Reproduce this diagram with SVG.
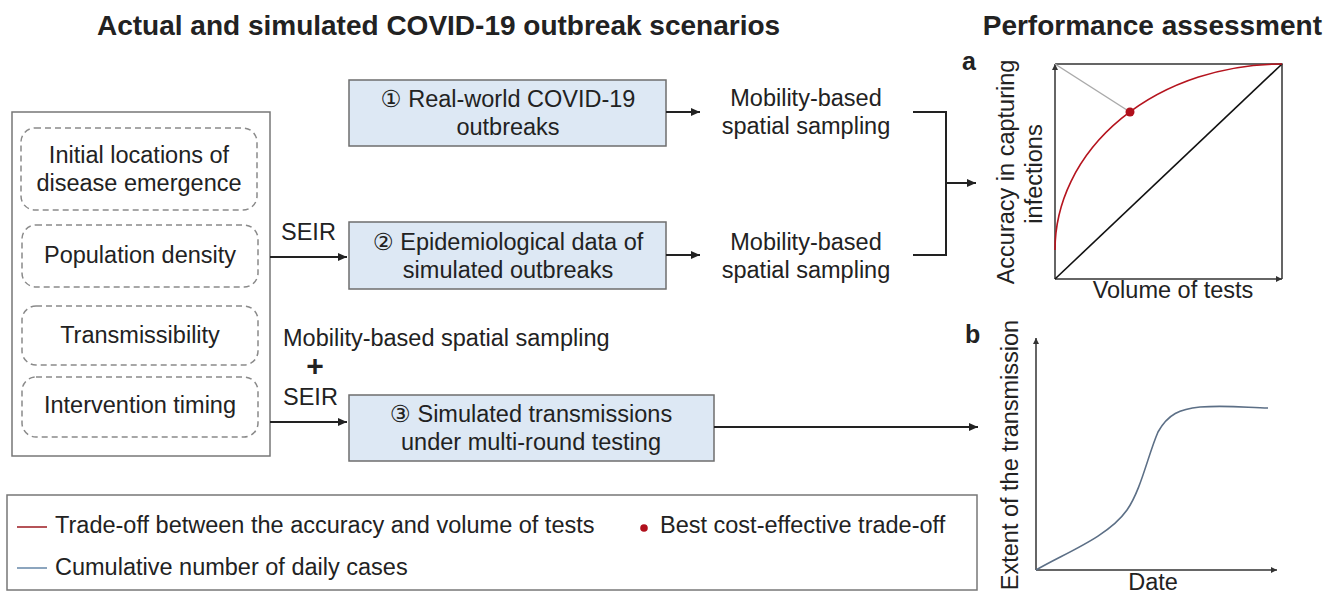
<svg xmlns="http://www.w3.org/2000/svg" width="1326" height="596" viewBox="0 0 1326 596">
<style>
text{font-family:"Liberation Sans",Arial,"DejaVu Sans",sans-serif;fill:#222;}
.t{font-size:23.5px;}
.c{text-anchor:middle;}
.h{font-size:28px;font-weight:bold;}
.lbl{font-size:25px;font-weight:bold;}
.blue{fill:#dde8f4;stroke:#6e6e6e;stroke-width:1.5;}
.dash{fill:none;stroke:#8a8a8a;stroke-width:1.5;stroke-dasharray:6 4;}
.conn{fill:none;stroke:#222;stroke-width:2;}
.ax{fill:none;stroke:#333;stroke-width:1.5;}
</style>
<defs>
<marker id="ah" markerUnits="userSpaceOnUse" markerWidth="9" markerHeight="8" refX="9" refY="4" orient="auto">
<path d="M0,0 L9,4 L0,8 z" fill="#222"/>
</marker>
<marker id="sa" markerUnits="userSpaceOnUse" markerWidth="6" markerHeight="6" refX="6" refY="3" orient="auto">
<path d="M0,0 L6,3 L0,6 z" fill="#333"/>
</marker>
</defs>
<rect width="1326" height="596" fill="#fff"/>

<text class="h" x="97" y="35">Actual and simulated COVID-19 outbreak scenarios</text>
<text class="h" x="1322" y="35" text-anchor="end">Performance assessment</text>

<g id="factors">
<rect x="12" y="112" width="258" height="344" fill="none" stroke="#777" stroke-width="1.5"/>
<g id="f1"><rect class="dash" x="21" y="128" width="236" height="82" rx="14"/>
<text class="t c" x="139" y="163">Initial locations of</text>
<text class="t c" x="139" y="191">disease emergence</text></g>
<g id="f2"><rect class="dash" x="22" y="225" width="236" height="62" rx="14"/>
<text class="t c" x="140" y="263">Population density</text></g>
<g id="f3"><rect class="dash" x="22" y="306" width="236" height="59" rx="14"/>
<text class="t c" x="140" y="343">Transmissibility</text></g>
<g id="f4"><rect class="dash" x="22" y="377" width="236" height="60" rx="14"/>
<text class="t c" x="140" y="413">Intervention timing</text></g>
</g>

<g id="box1"><rect class="blue" x="349" y="80" width="317" height="66"/>
<text class="t c" x="508" y="107">① Real-world COVID-19</text>
<text class="t c" x="508" y="135">outbreaks</text></g>
<g id="box2"><rect class="blue" x="349" y="222" width="317" height="67"/>
<text class="t c" x="508" y="250">② Epidemiological data of</text>
<text class="t c" x="508" y="278">simulated outbreaks</text></g>
<g id="box3"><rect class="blue" x="349" y="395" width="365" height="66"/>
<text class="t c" x="531" y="422">③ Simulated transmissions</text>
<text class="t c" x="531" y="450">under multi-round testing</text></g>

<g id="sampling1"><text class="t c" x="806" y="106">Mobility-based</text>
<text class="t c" x="806" y="134">spatial sampling</text></g>
<g id="sampling2"><text class="t c" x="806" y="250">Mobility-based</text>
<text class="t c" x="806" y="278">spatial sampling</text></g>

<g id="labels">
<text class="t" x="281" y="240">SEIR</text>
<text class="t" x="283" y="346">Mobility-based spatial sampling</text>
<text x="315" y="376" style="font-size:30px;font-weight:bold;text-anchor:middle">+</text>
<text class="t" x="283" y="405">SEIR</text>
</g>

<g id="connectors">
<path class="conn" d="M666,112 H700" marker-end="url(#ah)"/>
<path class="conn" d="M666,255 H700" marker-end="url(#ah)"/>
<path class="conn" d="M270,257 H347" marker-end="url(#ah)"/>
<path class="conn" d="M270,422 H347" marker-end="url(#ah)"/>
<path class="conn" d="M714,427 H978" marker-end="url(#ah)"/>
<path class="conn" d="M913,112 H946 V255 H913"/>
<path class="conn" d="M946,183 H976" marker-end="url(#ah)"/>
</g>

<g id="chartA">
<text class="lbl" x="962" y="70">a</text>
<path class="ax" d="M1055,64 H1282 V279"/>
<path class="ax" d="M1055,279 V64" marker-end="url(#sa)"/>
<path class="ax" d="M1055,279 H1282" marker-end="url(#sa)"/>
<path d="M1055,279 L1282,64" stroke="#111" stroke-width="1.6" fill="none"/>
<path d="M1055,64 L1130,112" stroke="#aaa" stroke-width="1.4" fill="none"/>
<path d="M1055,250 A227,186 0 0 1 1282,64" stroke="#b5141e" stroke-width="1.6" fill="none"/>
<circle cx="1130" cy="112" r="4.5" fill="#b0101c"/>
<text class="t c" transform="translate(1014,172) rotate(-90)">Accuracy in capturing</text>
<text class="t c" transform="translate(1042,174) rotate(-90)">infections</text>
<text class="t c" x="1173" y="298">Volume of tests</text>
</g>

<g id="chartB">
<text class="lbl" x="965" y="343">b</text>
<path class="ax" d="M1036,570 V338" marker-end="url(#sa)"/>
<path class="ax" d="M1036,570 H1277" marker-end="url(#sa)"/>
<path d="M1036,570 C1065,553 1108,537 1127,510 C1141,490 1148,455 1158,432 C1168,414 1180,409 1200,407 C1230,405 1250,408 1268,408" stroke="#5c6f86" stroke-width="1.6" fill="none"/>
<text class="t c" transform="translate(1018,455) rotate(-90)">Extent of the transmission</text>
<text class="t c" x="1153" y="590">Date</text>
</g>

<g id="legend">
<rect x="7" y="495" width="970" height="95" fill="none" stroke="#777" stroke-width="1.5"/>
<line x1="17" y1="527" x2="47" y2="527" stroke="#a3272e" stroke-width="1.6"/>
<text class="t" x="55" y="533">Trade-off between the accuracy and volume of tests</text>
<circle cx="644" cy="528" r="3.8" fill="#b0101c"/>
<text class="t" x="660" y="533">Best cost-effective trade-off</text>
<line x1="17" y1="568" x2="47" y2="568" stroke="#6f8fae" stroke-width="1.6"/>
<text class="t" x="55" y="575">Cumulative number of daily cases</text>
</g>
</svg>
